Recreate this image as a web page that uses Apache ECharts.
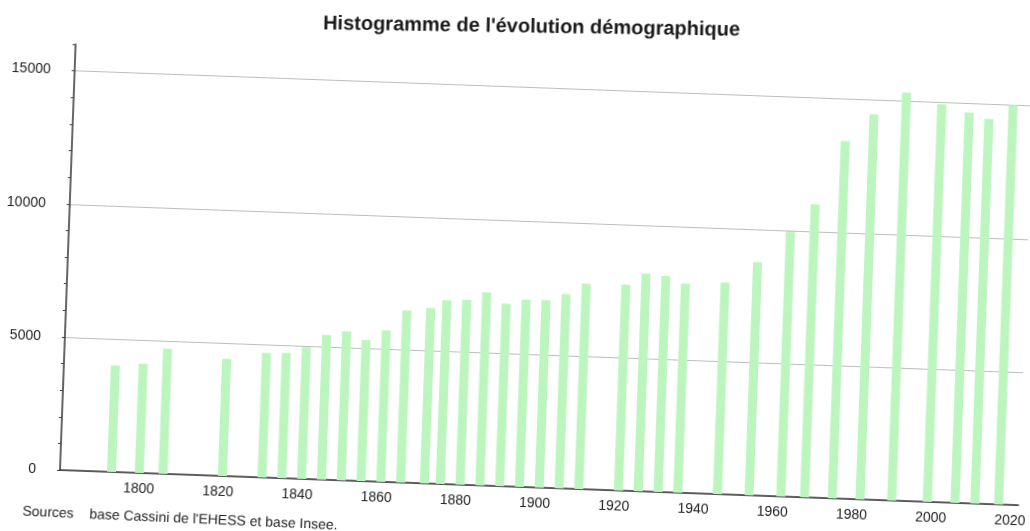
<!DOCTYPE html>
<html>
<head>
<meta charset="utf-8">
<script src="https://cdn.jsdelivr.net/npm/echarts@6/dist/echarts.min.js"></script>
<style>
  html, body { margin: 0; padding: 0; background: #fff; overflow: hidden; width: 1030px; height: 531px; }
  /* le scan est légèrement penché : on tourne tout le graphique */
  #chart {
    position: absolute;
    left: -20px;
    top: -40px;
    width: 1080px;
    height: 600px;
    transform: rotate(2.1deg);
    transform-origin: 80px 510px;
  }
</style>
</head>
<body>
<div id="chart"></div>
<script>
/* données : années de recensement et population */
const years = [1793, 1800, 1806, 1821, 1831, 1836, 1841, 1846, 1851, 1856,
  1861, 1866, 1872, 1876, 1881, 1886, 1891, 1896, 1901, 1906,
  1911, 1921, 1926, 1931, 1936, 1946, 1954, 1962, 1968, 1975,
  1982, 1990, 1999, 2006, 2011, 2017];
const population = [4000, 4100, 4700, 4400, 4680, 4700, 4950, 5440, 5600, 5300,
  5690, 6470, 6590, 6900, 6950, 7260, 6850, 7030, 7040, 7300,
  7720, 7740, 8180, 8110, 7860, 7950, 8760, 9940, 11010, 13430,
  14470, 15330, 14940, 14670, 14450, 15010];
const xTickLabels = [1800, 1820, 1840, 1860, 1880, 1900, 1920, 1940, 1960, 1980, 2000, 2020];
const yTickLabels = [0, 5000, 10000, 15000];

const titleText = "Histogramme de l'évolution démographique";
const sourceText = "Sources    base Cassini de l'EHESS et base Insee.";

const chart = echarts.init(document.getElementById('chart'));

const option = {
  animation: false,
  backgroundColor: 'transparent',
  grid: {
    left: 80,
    top: 84,
    width: 959,
    height: 426,
    outerBoundsMode: 'none'
  },
  xAxis: {
    type: 'value',
    min: 1780,
    max: 2022,
    interval: 20,
    axisLine: { show: true, lineStyle: { color: '#333', width: 1.5 } },
    axisTick: { show: false },
    splitLine: { show: false },
    axisLabel: {
      margin: 9,
      color: '#222',
      fontFamily: 'Liberation Sans',
      fontSize: 14,
      formatter: v => xTickLabels.includes(v) ? String(v) : ''
    }
  },
  yAxis: {
    type: 'value',
    min: 0,
    max: 16000,
    interval: 1000,
    axisLine: { show: true, lineStyle: { color: '#333', width: 1.5 } },
    axisTick: { show: true, length: 3, lineStyle: { color: '#444' } },
    splitLine: {
      show: true,
      lineStyle: { color: ['#bdbdbd', 'transparent', 'transparent', 'transparent', 'transparent'], width: 1 }
    },
    axisLabel: {
      margin: 24,
      color: '#222',
      fontFamily: 'Liberation Sans',
      fontSize: 14,
      formatter: v => yTickLabels.includes(v) ? String(v) : ''
    }
  },
  series: [
    {
      type: 'bar',
      barWidth: 9,
      itemStyle: { color: '#bdf5bf' },
      data: years.map((y, i) => [y, population[i]])
    }
  ],
  graphic: [
    {
      type: 'text',
      x: 535,
      y: 50,
      rotation: 0.021,
      style: {
        text: titleText,
        font: 'bold 20px "Liberation Sans"',
        fill: '#1a1a1a',
        textAlign: 'center',
        textVerticalAlign: 'middle'
      }
    },
    {
      type: 'text',
      x: 44,
      y: 553,
      rotation: -0.008,
      style: {
        text: sourceText,
        font: '14px "Liberation Sans"',
        fill: '#222',
        textAlign: 'left',
        textVerticalAlign: 'middle'
      }
    }
  ]
};

chart.setOption(option);
</script>
</body>
</html>
